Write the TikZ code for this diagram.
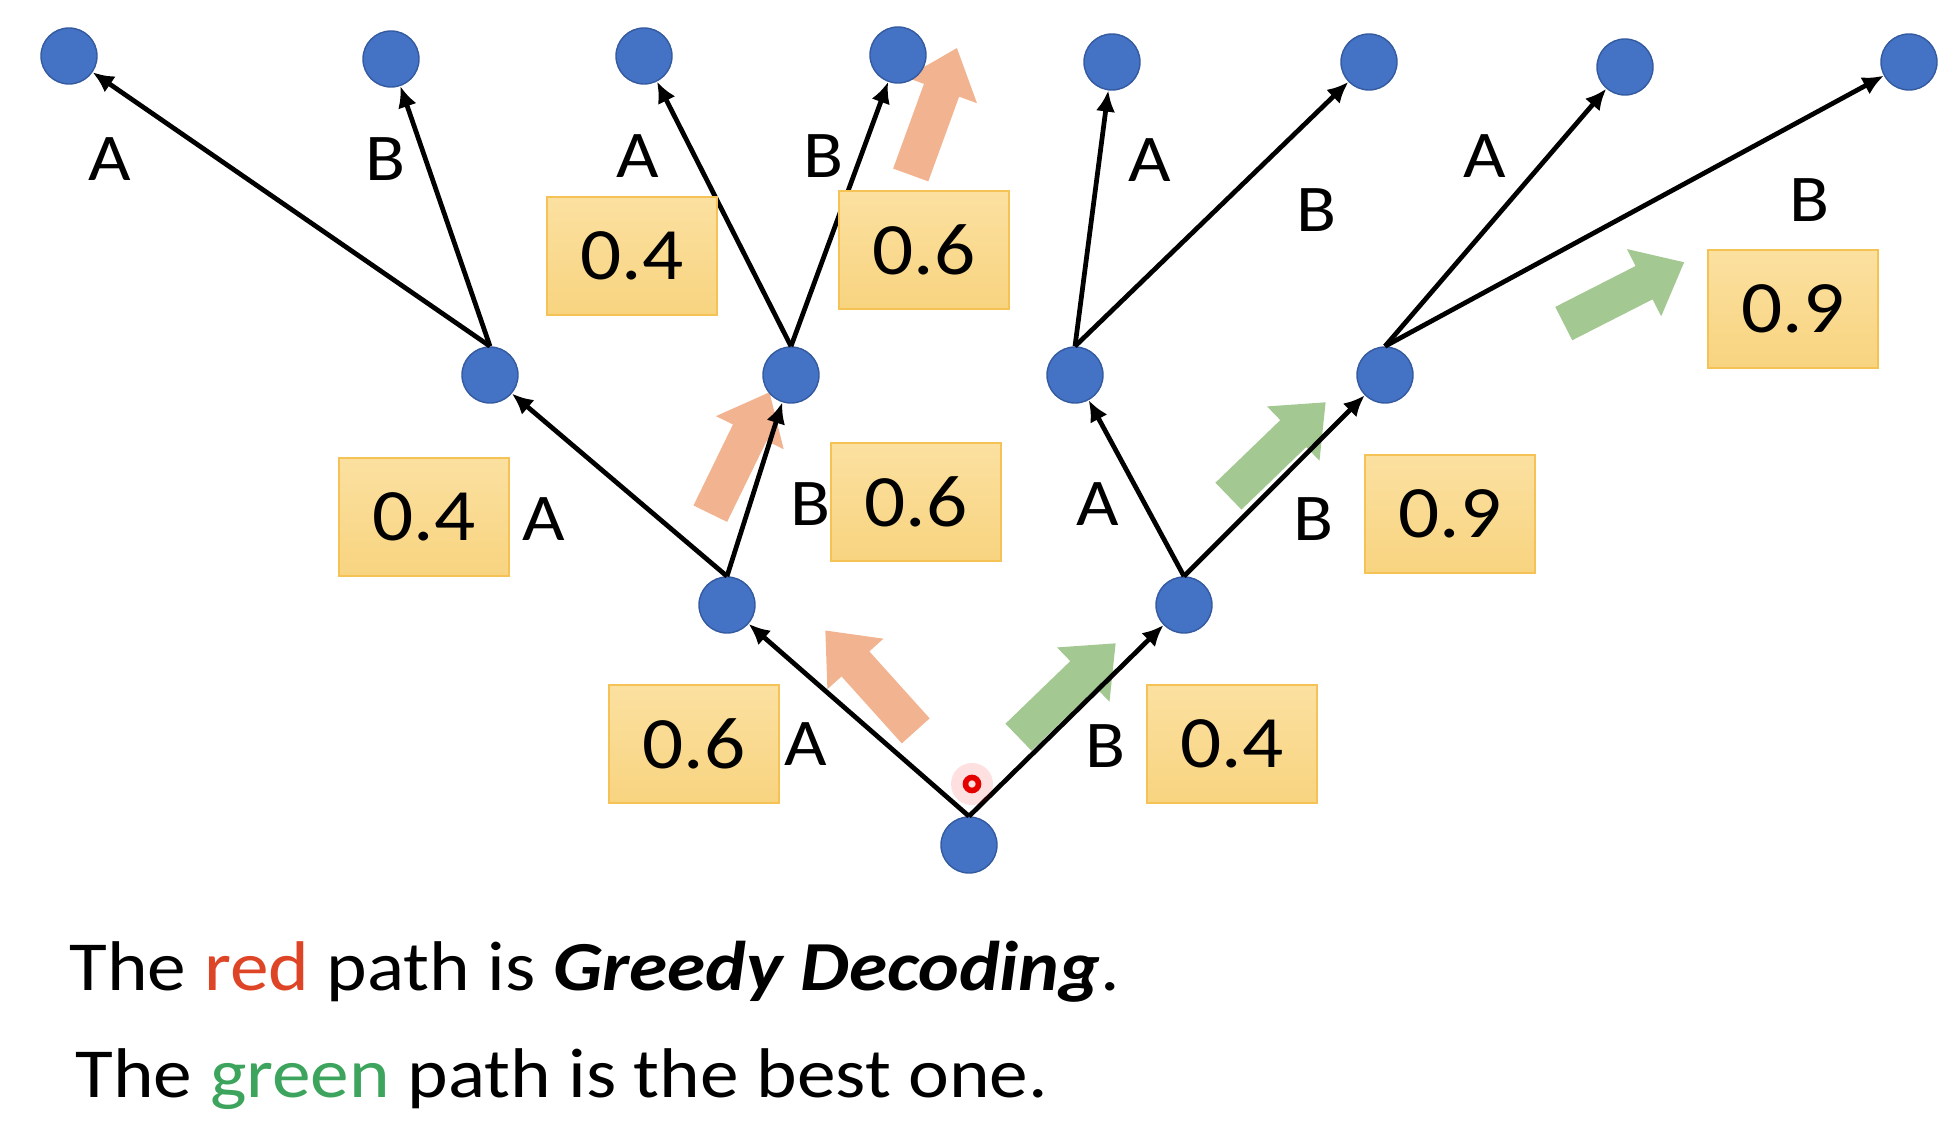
\documentclass[tikz,border=0pt]{standalone}
\usepackage{fontspec}
\setmainfont{Carlito}[FakeStretch=1.1]
\usetikzlibrary{arrows.meta,shapes}

\definecolor{nodeblue}{RGB}{68,114,196}
\definecolor{nodeedge}{RGB}{52,90,160}
\definecolor{boxfill}{RGB}{248,212,128}
\definecolor{boxtop}{RGB}{251,224,160}
\definecolor{boxline}{RGB}{245,195,85}
\definecolor{greedy}{RGB}{240,166,124}
\definecolor{best}{RGB}{148,190,126}
\definecolor{redtext}{RGB}{222,68,38}
\definecolor{greentext}{RGB}{60,164,92}

\tikzset{
  tnode/.style={circle, fill=nodeblue, draw=nodeedge, line width=0.4pt,
    minimum size=0.56cm, inner sep=0pt},
  prob/.style={rectangle, draw=boxline, line width=0.8pt, top color=boxtop,
    bottom color=boxfill, minimum width=1.7cm, minimum height=1.18cm,
    inner sep=0pt, font=\fontsize{21}{25}\selectfont},
  tok/.style={font=\fontsize{19}{23}\selectfont, inner sep=0pt},
  link/.style={-{Latex[length=6pt,width=5.5pt]}, line width=1.35pt},
  fat/.style={single arrow, draw=none, minimum height=1.35cm,
    inner xsep=0pt, inner ysep=0.18cm, single arrow head extend=0.19cm,
    single arrow tip angle=80, opacity=0.85},
}

\begin{document}
\begin{tikzpicture}[x=0.01cm, y=-0.01cm]
\useasboundingbox (0,0) rectangle (1960,1128);

% fat arrows
\node[fat, fill=greedy, rotate=132] (g1) at (878,689) {};
\node[fat, fill=greedy, rotate=64] (g2) at (735,463) {};
\node[fat, fill=greedy, rotate=70] (g3) at (930,122) {};
\node[fat, fill=best, rotate=44] (b1) at (1059,698) {};
\node[fat, fill=best, rotate=44] (b2) at (1269,457) {};
\node[fat, fill=best, rotate=27] (b3) at (1614,298) {};

% tree
\node[tnode] (t0) at (969,845) {};
\node[tnode] (t1) at (727,605) {};
\node[tnode] (t2) at (1184,605) {};
\node[tnode] (t11) at (490,375) {};
\node[tnode] (t12) at (791,375) {};
\node[tnode] (t21) at (1075,375) {};
\node[tnode] (t22) at (1385,375) {};
\node[tnode] (t111) at (69,56) {};
\node[tnode] (t112) at (391,59) {};
\node[tnode] (t121) at (644,56) {};
\node[tnode] (t122) at (898,55) {};
\node[tnode] (t211) at (1112,62) {};
\node[tnode] (t212) at (1369,62) {};
\node[tnode] (t221) at (1625,67) {};
\node[tnode] (t222) at (1909,62) {};

\draw[link] (t0.north) -- (t1);
\draw[link] (t0.north) -- (t2);
\draw[link] (t1.north) -- (t11);
\draw[link] (t1.north) -- (t12);
\draw[link] (t2.north) -- (t21);
\draw[link] (t2.north) -- (t22);
\draw[link] (t11.north) -- (t111);
\draw[link] (t11.north) -- (t112);
\draw[link] (t12.north) -- (t121);
\draw[link] (t12.north) -- (t122);
\draw[link] (t21.north) -- (t211);
\draw[link] (t21.north) -- (t212);
\draw[link] (t22.north) -- (t221);
\draw[link] (t22.north) -- (t222);

% probabilities
\node[prob] (p1) at (694,744) {0.6};
\node[prob] (p2) at (1232,744) {0.4};
\node[prob] (p11) at (424,517) {0.4};
\node[prob] (p12) at (916,502) {0.6};
\node[prob] (p22) at (1450,514) {0.9};
\node[prob] (p121) at (632,256) {0.4};
\node[prob] (p122) at (924,250) {0.6};
\node[prob] (p222) at (1793,309) {0.9};

% tokens
\node[tok] (a1) at (806,744) {A};
\node[tok] (b1l) at (1105,746) {B};
\node[tok] (a11) at (544,519) {A};
\node[tok] (b12) at (810,504) {B};
\node[tok] (a21) at (1098,504) {A};
\node[tok] (b22) at (1313,519) {B};
\node[tok] (a111) at (110,159) {A};
\node[tok] (b112) at (385,159) {B};
\node[tok] (a121) at (638,156) {A};
\node[tok] (b122) at (823,156) {B};
\node[tok] (a211) at (1150,160) {A};
\node[tok] (b212) at (1316,210) {B};
\node[tok] (a221) at (1485,156) {A};
\node[tok] (b222) at (1809,200) {B};

% pointer
\node[circle, fill=red, opacity=0.12, minimum size=0.42cm] (glow) at (972,784) {};
\node[circle, draw=red!90!black, line width=1.6pt, minimum size=0.13cm,
  inner sep=0pt] (ptr) at (972,784) {};

% caption
\node[anchor=base west, inner sep=0pt, font=\fontsize{20}{24}\selectfont]
  (cap1) at (69,991) {The \textcolor{redtext}{red} path is \textbf{\textit{Greedy Decoding}}.};
\node[anchor=base west, inner sep=0pt, font=\fontsize{20}{24}\selectfont]
  (cap2) at (75,1097) {The \textcolor{greentext}{green} path is the best one.};
\end{tikzpicture}
\end{document}
